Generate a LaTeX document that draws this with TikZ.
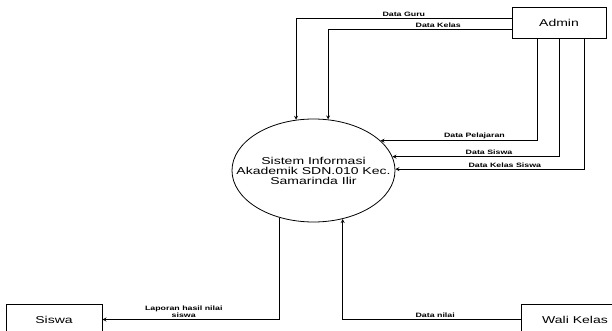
\documentclass[tikz,border=0pt]{standalone}
\usepackage{fontspec}
\setmainfont{Liberation Sans}[FakeStretch=1.4]
\usepackage{tikz}
\usetikzlibrary{shapes.geometric}

\begin{document}
\begin{tikzpicture}[x=1pt, y=-1pt, >=stealth, line width=0.8pt,
    entity/.style={draw, minimum height=31pt, inner sep=0pt, font=\fontsize{10}{11}\selectfont},
    flow/.style={->},
    lbl/.style={font=\bfseries\fontsize{6.3}{7.5}\selectfont, inner sep=1.5pt, align=center}]
  \clip (0,0) rectangle (612,331);

  \node[draw, ellipse, minimum width=163pt, minimum height=103pt, inner xsep=-24pt, inner ysep=0pt,
        align=center, font=\fontsize{10}{10}\selectfont] (sys) at (313.5,170.5)
        {Sistem Informasi\\Akademik SDN.010 Kec.\\Samarinda Ilir};

  \node[entity, minimum width=94pt] (admin) at (559,22.5) {Admin};
  \node[entity, minimum width=96pt] (siswa) at (54,319.5) {Siswa};
  \node[entity, minimum width=108pt] (wali) at (575,319.5) {Wali Kelas};

  \draw[flow] (admin.west|-0,18) -| (sys.109.2) node[lbl, above, pos=0.25] {Data Guru};
  \draw[flow] (admin.west|-0,29) -| (sys.74) node[lbl, above, pos=0.2] {Data Kelas};

  \draw[flow] (admin.south-|537,0) |- (sys.24.9) node[lbl, above, pos=0.7] {Data Pelajaran};
  \draw[flow] (admin.south-|559,0) |- (sys.10.5) node[lbl, above, pos=0.71] {Data Siswa};
  \draw[flow] (admin.south-|584,0) |- (sys.1.1) node[lbl, above, pos=0.71] {Data Kelas Siswa};

  \draw[flow] (sys.234.5) |- (siswa.east) node[lbl, above, pos=0.77] {Laporan hasil nilai\\siswa};
  \draw[flow] (wali.west) -| (sys.301.6) node[lbl, above, pos=0.24] {Data nilai};
\end{tikzpicture}
\end{document}
